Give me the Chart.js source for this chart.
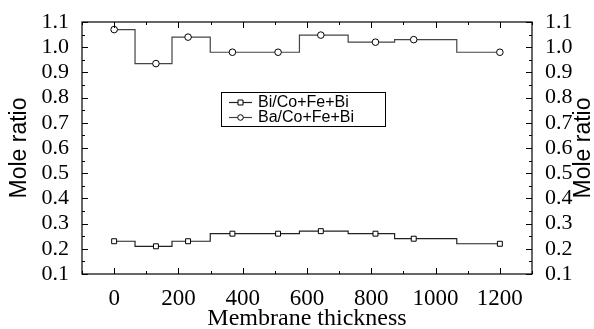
<!DOCTYPE html>
<html>
<head>
<meta charset="utf-8">
<script src="https://cdn.jsdelivr.net/npm/chart.js@4"></script>
<style>
  html, body { margin: 0; padding: 0; background: #fff; }
  #wrap { width: 594px; height: 329px; }
</style>
</head>
<body>
<div id="wrap"><canvas id="c" width="594" height="329"></canvas></div>
<script>
// données
var thickness = [0, 130, 230, 368, 510, 643, 813, 932, 1200]
var biRatio = [0.23, 0.21, 0.23, 0.26, 0.26, 0.27, 0.26, 0.24, 0.22]
var baRatio = [1.07, 0.935, 1.04, 0.98, 0.98, 1.048, 1.02, 1.03, 0.98]
var seriesLabels = ["Bi/Co+Fe+Bi", "Ba/Co+Fe+Bi"]
var xTickValues = [0, 200, 400, 600, 800, 1000, 1200]
var yTickValues = [0.1, 0.2, 0.3, 0.4, 0.5, 0.6, 0.7, 0.8, 0.9, 1.0, 1.1]
var xTitle = "Membrane thickness"
var yTitle = "Mole ratio"

var serif = "'Liberation Serif', 'Times New Roman', serif"
var sans = "'Liberation Sans', Arial, sans-serif"

function toPoints(ys){
    var pts = []
    for (var i = 0; i < thickness.length; i++) pts.push({x: thickness[i], y: ys[i]})
    return pts
}

function setTicks(values){
    return function(scale){ scale.ticks = values.map(function(v){ return {value: v} }) }
}

// cadre + graduations vers l'intérieur (majeures et mineures)
const framePlugin = {
    id: 'frameTicks',
    afterDraw: (chart) => {
        const {ctx, chartArea: a, scales} = chart
        ctx.save()
        ctx.strokeStyle = '#000'
        ctx.lineWidth = 1.2
        ctx.strokeRect(a.left, a.top, a.right - a.left, a.bottom - a.top)
        ctx.lineWidth = 1
        ctx.beginPath()
        var x = scales.x
        for (var v = x.min; v <= x.max; v += 100) {
            var px = Math.round(x.getPixelForValue(v)) + 0.5
            var len = (v % 200 === 0) ? 6 : 3
            ctx.moveTo(px, a.bottom); ctx.lineTo(px, a.bottom - len)
            ctx.moveTo(px, a.top); ctx.lineTo(px, a.top + len)
        }
        var y = scales.y
        for (var k = 0; k <= 20; k++) {
            var val = 0.1 + k * 0.05
            var py = Math.round(y.getPixelForValue(val)) + 0.5
            var l2 = (k % 2 === 0) ? 6 : 3
            ctx.moveTo(a.left, py); ctx.lineTo(a.left + l2, py)
            ctx.moveTo(a.right, py); ctx.lineTo(a.right - l2, py)
        }
        ctx.stroke()

        // titre de l'axe de droite (même sens que celui de gauche)
        ctx.fillStyle = '#000'
        ctx.font = "23px " + sans
        ctx.textAlign = 'center'
        ctx.textBaseline = 'middle'
        ctx.translate(584, (a.top + a.bottom) / 2)
        ctx.rotate(-Math.PI / 2)
        ctx.fillText(yTitle, 0, 0)
        ctx.restore()
    }
}

// légende encadrée dans la zone du graphe
const legendBox = {
    id: 'legendBox',
    afterDraw: (chart) => {
        const ctx = chart.ctx
        ctx.save()
        ctx.strokeStyle = '#000'
        ctx.lineWidth = 1
        ctx.strokeRect(221.5, 92.5, 164, 34)
        var rows = [102.5, 117.5]
        chart.data.datasets.forEach(function(ds, i){
            var yy = rows[i]
            ctx.strokeStyle = ds.borderColor
            ctx.lineWidth = 1.2
            ctx.beginPath(); ctx.moveTo(229, yy); ctx.lineTo(252, yy); ctx.stroke()
            ctx.fillStyle = '#fff'
            ctx.strokeStyle = '#000'
            ctx.lineWidth = 1
            ctx.beginPath()
            if (ds.pointStyle === 'rect') ctx.rect(238, yy - 2.5, 5, 5)
            else ctx.arc(240.5, yy, 2.8, 0, Math.PI * 2)
            ctx.fill(); ctx.stroke()
            ctx.fillStyle = '#000'
            ctx.font = "16px " + sans
            ctx.textAlign = 'left'
            ctx.textBaseline = 'middle'
            ctx.fillText(ds.label, 258, yy + 0.5)
        })
        ctx.restore()
    }
}

var yTicks = {
    autoSkip: false,
    padding: 5,
    color: '#000',
    font: {family: serif, size: 22},
    callback: function(v){ return v.toFixed(1) }
}

var config = {
    type: 'line',
    data: {
        datasets: [{
            label: seriesLabels[0],
            data: toPoints(biRatio),
            stepped: 'middle',
            borderColor: '#222',
            borderWidth: 1.2,
            pointStyle: 'rect',
            pointRadius: 3.5,
            pointBackgroundColor: '#fff',
            pointBorderColor: '#000',
            pointBorderWidth: 1,
            fill: false
        }, {
            label: seriesLabels[1],
            data: toPoints(baRatio),
            stepped: 'middle',
            borderColor: '#444',
            borderWidth: 1.2,
            pointStyle: 'circle',
            pointRadius: 3.3,
            pointBackgroundColor: '#fff',
            pointBorderColor: '#000',
            pointBorderWidth: 1,
            fill: false
        }]
    },
    options: {
        responsive: false,
        animation: false,
        layout: {padding: {top: 22, left: 0, right: 0, bottom: 0}},
        plugins: {legend: {display: false}, tooltip: {enabled: false}},
        scales: {
            x: {
                type: 'linear',
                min: -100, max: 1300,
                grid: {display: false},
                border: {display: false},
                afterBuildTicks: setTicks(xTickValues),
                ticks: {
                    autoSkip: false, padding: 3,
                    maxRotation: 0, color: '#000',
                    font: {family: serif, size: 23},
                    callback: function(v){ return String(v) }
                },
                title: {
                    display: true, text: xTitle, color: '#000',
                    font: {family: serif, size: 24, lineHeight: 0.85},
                    padding: 0
                },
                afterFit: function(s){ s.height = 55 }
            },
            y: {
                position: 'left',
                min: 0.1, max: 1.1,
                grid: {display: false},
                border: {display: false},
                afterBuildTicks: setTicks(yTickValues),
                ticks: yTicks,
                title: {
                    display: true, text: yTitle, color: '#000',
                    font: {family: sans, size: 23, lineHeight: 1},
                    padding: {top: 8, bottom: 0}
                },
                afterFit: function(s){ s.width = 82 }
            },
            y2: {
                position: 'right',
                min: 0.1, max: 1.1,
                grid: {display: false},
                border: {display: false},
                afterBuildTicks: setTicks(yTickValues),
                ticks: yTicks,
                afterFit: function(s){ s.width = 62 }
            }
        }
    },
    plugins: [framePlugin, legendBox]
}

var chart = new Chart(document.getElementById('c'), config)
</script>
</body>
</html>
